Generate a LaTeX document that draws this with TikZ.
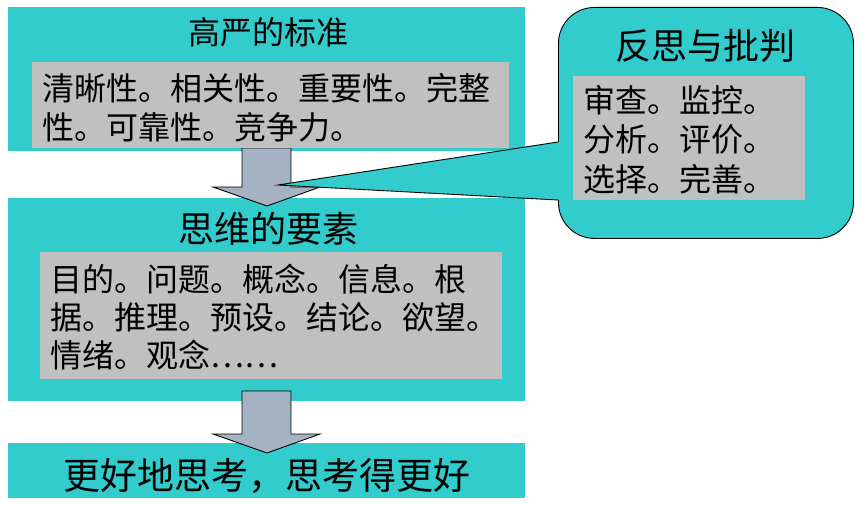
\documentclass[tikz,border=0pt]{standalone}
\usepackage{fontspec}
\setmainfont{Noto Sans CJK SC}
\definecolor{tealfill}{RGB}{51,204,204}
\definecolor{grayfill}{RGB}{192,192,192}
\definecolor{arrowfill}{RGB}{164,178,193}
\tikzset{
  tealbox/.style={fill=tealfill, draw=none, inner sep=0pt, anchor=north west},
  graybox/.style={fill=grayfill, draw=none, inner sep=0pt, anchor=north west},
  blockarrow/.style={fill=arrowfill, draw=black, line width=0.9pt, line join=miter},
  callout/.style={fill=tealfill, draw=black, line width=0.9pt, rounded corners=36pt, inner sep=0pt, anchor=north west},
  bodytext/.style={inner sep=0pt, anchor=base west, font=\fontsize{32}{38}\selectfont},
  titletext/.style={inner sep=0pt, anchor=base},
}
\begin{document}
\begin{tikzpicture}[x=1pt,y=-1pt]
\useasboundingbox (0,0) rectangle (861,505);
% teal boxes
\node[tealbox, minimum width=517pt, minimum height=144pt] (b1) at (8,7) {};
\node[tealbox, minimum width=517pt, minimum height=203pt] (b2) at (8,198) {};
\node[tealbox, minimum width=517pt, minimum height=55pt] (b3) at (8,443) {};
% arrows
\draw[blockarrow] (242,148) -- (291,148) -- (291,187) -- (320,187) -- (267,206) -- (213,187) -- (242,187) -- cycle;
\draw[blockarrow] (242,391) -- (291,391) -- (291,434) -- (320,434) -- (267,453) -- (213,434) -- (242,434) -- cycle;
% gray boxes
\node[graybox, minimum width=477pt, minimum height=86pt] (g1) at (32,62) {};
\node[graybox, minimum width=462pt, minimum height=127pt] (g2) at (40,252) {};
% callout
\node[callout, minimum width=295pt, minimum height=231pt] (c) at (558,7) {};
\coordinate (tip) at (278,185);
\coordinate (pa) at (558,142);
\coordinate (pb) at (558,200);
\fill[tealfill] (tip) -- (pa) -- ([xshift=2pt]pa) -- ([xshift=2pt]pb) -- (pb) -- cycle;
\draw[black, line width=0.9pt, line join=miter] (pa) -- (tip) -- (pb);
\node[graybox, minimum width=232pt, minimum height=124pt] (g3) at (573,76) {};
% titles
\node[titletext, font=\fontsize{32}{38}\selectfont] (t1) at (268,45) {高严的标准};
\node[titletext, font=\fontsize{36}{42}\selectfont] (t2) at (268,242) {思维的要素};
\node[titletext, font=\fontsize{36}{42}\selectfont] (t3) at (705,60) {反思与批判};
\node[titletext, font=\fontsize{37}{44}\selectfont] (t4) at (267,489) {更好地思考，思考得更好};
% body texts
\node[bodytext] (l1a) at (42,101) {清晰性。相关性。重要性。完整};
\node[bodytext] (l1b) at (42,140) {性。可靠性。竞争力。};
\node[bodytext] (l2a) at (50,291) {目的。问题。概念。信息。根};
\node[bodytext] (l2b) at (50,329) {据。推理。预设。结论。欲望。};
\node[bodytext] (l2c) at (50,367) {情绪。观念……};
\node[bodytext] (l3a) at (583,113) {审查。监控。};
\node[bodytext] (l3b) at (583,152) {分析。评价。};
\node[bodytext] (l3c) at (583,191) {选择。完善。};
\end{tikzpicture}
\end{document}
